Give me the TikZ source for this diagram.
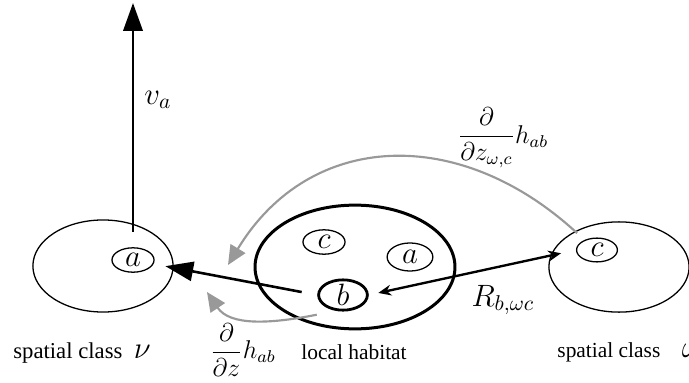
\documentclass[tikz,border=0pt]{standalone}
\usepackage{amsmath}
\usepackage{fontspec}
\setmainfont{Liberation Serif}
\usepackage{tikz}
\usetikzlibrary{positioning, arrows.meta, calc, shapes.geometric}
\tikzset{
  region/.style={draw, ellipse, minimum width=2.3cm, minimum height=1.51cm, line width=0.6pt},
  habitat/.style={region, minimum width=3.28cm, minimum height=2.03cm, line width=1.4pt},
  sp/.style={draw, ellipse, inner sep=0pt, minimum width=0.69cm, minimum height=0.4cm, line width=0.6pt, font=\Large},
  mlbl/.style={font=\Large},
  frac/.style={font=\large},
  move/.style={-{Triangle[length=13pt, width=9pt]}, line width=1.2pt},
  grad/.style={-{Triangle[length=9pt, width=8pt]}, line width=1pt, black!40},
  link/.style={{Stealth[length=6pt, width=5pt]}-{Stealth[length=6pt, width=5pt]}, line width=1.1pt},
}

\begin{document}
\begin{tikzpicture}[x=0.0164cm, y=-0.0164cm]
  \useasboundingbox (0,0) rectangle (689,383);
  % classes and habitat
  \node[region] (nu) at (103,266) {};
  \node[habitat] (hab) at (355,267) {};
  \node[region, minimum height=1.48cm] (om) at (619,267) {};
  % species
  \node[sp] (aL) at (133,260) {$a$};
  \node[sp] (cH) at (324,242) {$c$};
  \node[sp, minimum width=0.75cm, minimum height=0.46cm] (aH) at (410,257) {$a$};
  \node[sp, line width=1.3pt, minimum width=0.8cm, minimum height=0.42cm] (bH) at (343,295) {$b$};
  \node[sp, minimum width=0.67cm, minimum height=0.39cm] (cR) at (597,250) {$c$};
  \coordinate (top) at (133,3);
  \coordinate (gtip) at (228,265);
  \coordinate (gtip2) at (207,292);
  % labels
  \node[mlbl] (vlbl) at (158,100) {$v_a$};
  \node[mlbl] (rlbl) at (503,300) {$R_{b,\omega c}$};
  \node[frac] (glbl) at (503,138) {$\dfrac{\partial}{\partial z_{\omega,c}}h_{ab}$};
  \node[frac] (glbl2) at (243,350) {$\dfrac{\partial}{\partial z}h_{ab}$};
  \node[font=\fontsize{10.6}{13}\selectfont] (nulbl) at (82,353) {spatial class~~{\Large$\nu$}};
  \node (hablbl) at (354,352) {local habitat};
  \node[anchor=west, inner sep=0pt] (omlbl) at (557,352) {spatial class\quad{\Large$\omega$}};
  % arrows
  \draw[move] ([yshift=0.25cm]aL.north) -- (top);
  \draw[move, shorten <=0.26cm, shorten >=0.54cm] (bH.west) -- (aL.center);
  \draw[link, shorten <=0.16cm, shorten >=0.25cm] (bH.east) -- (cR.west);
  \draw[grad] ($(cR.north west)+(-5,-8)$) .. controls (460,125) and (310,130) .. (gtip);
  \draw[grad] ($(bH.south west)+(-8,8)$) .. controls (270,324) and (230,326) .. (gtip2);
\end{tikzpicture}
\end{document}
